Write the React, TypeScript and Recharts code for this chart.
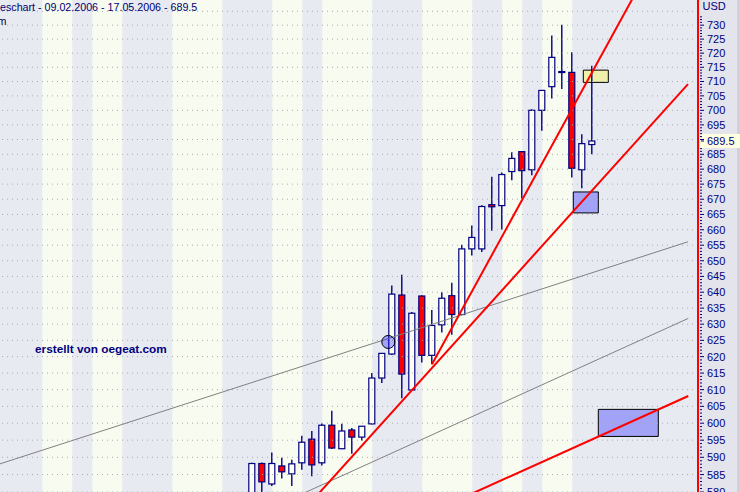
import React from 'react';
import {
  ComposedChart,
  Bar,
  XAxis,
  YAxis,
  ReferenceArea,
  ReferenceLine,
  ReferenceDot,
} from 'recharts';

// ---- candle data (trading-day index, OHLC in USD) ----
const dayIndex = [25, 26, 27, 28, 29, 30, 31, 32, 33, 34, 35, 36, 37, 38, 39, 40, 41, 42, 43, 44, 45, 46, 47, 48, 49, 50, 51, 52, 53, 54, 55, 56, 57, 58, 59];
const opens = [576, 588.2, 582.3, 587.5, 585.2, 588.4, 595.3, 588.4, 599.4, 592.5, 598.0, 595.9, 599.8, 613.5, 620.8, 639.1, 609.9, 638.8, 620.4, 629.8, 638.9, 633.0, 653.8, 653.8, 668.2, 667.9, 679.2, 685.9, 679.8, 700.0, 708.2, 713.5, 713.2, 679.8, 688.3];
const highs = [588.4, 588.5, 591.4, 589.9, 589.3, 596.3, 597.7, 599.9, 603.7, 599.8, 598.6, 599.2, 615.0, 621.0, 642.1, 645.5, 633.8, 639.0, 634.4, 640.0, 643.0, 655.1, 661.4, 668.0, 677.5, 678.9, 685.7, 686.0, 700.4, 707.0, 726.3, 730.1, 720.3, 691.8, 715.5];
const lows = [574, 578, 581.7, 583.9, 581.7, 586.4, 584.5, 587.6, 592.4, 592.4, 591.0, 594.9, 599.6, 612.0, 620.5, 607.4, 609.8, 618.2, 617.7, 627.4, 626.7, 632.8, 651.7, 652.8, 659.7, 660.1, 676.3, 670.2, 678.0, 693.0, 704.1, 707.4, 677.2, 673.6, 685.0];
const closes = [588.2, 582.9, 588.2, 585.8, 588.1, 594.4, 587.8, 599.4, 592.7, 597.7, 595.9, 599.1, 613.5, 621.0, 639.4, 614.7, 633.4, 620.4, 629.6, 638.1, 633.0, 653.8, 657.5, 667.6, 667.5, 678.2, 683.6, 679.5, 700.0, 706.9, 718.5, 713.3, 680.3, 688.6, 689.5];

const lastPrice = 689.5;
const titleText = 'eschart - 09.02.2006 - 17.05.2006 - 689.5';
const watermark = 'erstellt von oegeat.com';
const currency = 'USD';

// background week stripes (day index ranges)
const creamStarts = [4, 9, 17, 27, 32, 42, 50, 54];
const creamEnds = [7, 12, 22, 30, 37, 47, 52, 57];

// axis
const xDomain: [number, number] = [-0.23, 69.57];
const yDomain: [number, number] = [580, 739.1];
const gridValues = Array.from({ length: 32 }, (_, i) => 580 + i * 5);
const minorTicks = Array.from({ length: 154 }, (_, i) => 580 + i);
const yTicks = [...minorTicks, lastPrice].sort((a, b) => a - b);

// trend lines: [x1, y1, x2, y2] in (day, price)
const redLines = [
  [30, 574.4, 68.57, 709.1],
  [42.97, 617.7, 63.5, 742.8],
  [46, 578.3, 68.6, 608.1],
];
const greyLines = [
  [-0.23, 588.1, 68.57, 656.1],
  [28, 576.9, 68.6, 631.8],
];
// boxes: [x1, x2, yLow, yHigh]
const blueBoxes = [
  [57.1, 59.6, 665.5, 672.4],
  [59.6, 65.6, 596.1, 604.1],
];
const yellowBoxes = [[58.1, 60.6, 709.7, 714.0]];
const circleMark = { d: 38.6, price: 624.5 };

const data = dayIndex.map((d, i) => ({
  d,
  open: opens[i],
  high: highs[i],
  low: lows[i],
  close: closes[i],
}));

const NAVY = '#000080';

const Candle = (props: any) => {
  const { x, y, width, height, payload } = props;
  if (x == null || y == null || !payload) return null;
  const cx = x + width / 2;
  const top = Math.min(y, y + height);
  const h = Math.abs(height);
  const lh = Math.log(payload.high);
  const ll = Math.log(payload.low);
  const py = (v: number) => top + ((lh - Math.log(v)) / (lh - ll)) * h;
  const up = payload.close >= payload.open;
  const bt = py(Math.max(payload.open, payload.close));
  const bb = py(Math.min(payload.open, payload.close));
  const bh = Math.max(bb - bt, 1);
  return (
    <g>
      <line x1={cx} x2={cx} y1={top} y2={top + h} stroke={NAVY} strokeWidth={1.4} />
      <rect
        x={cx - 3}
        y={bt}
        width={6}
        height={bh}
        fill={bh <= 1.5 ? NAVY : up ? '#fffff2' : '#ff0000'}
        stroke={NAVY}
        strokeWidth={1.2}
      />
    </g>
  );
};

const AxisTick = (props: any) => {
  const { x, y, payload } = props;
  const v = Number(payload.value);
  if (v === lastPrice) {
    return (
      <g>
        <rect x={x + 2} y={y - 7} width={42} height={14} fill="#ffffe1" />
        <line x1={x + 3} x2={x + 6} y1={y} y2={y} stroke={NAVY} strokeWidth={1} />
        <text x={x + 9} y={y} dy="0.36em" fontSize={11} fontFamily="Liberation Sans, Arial, sans-serif" fill={NAVY}>
          {String(v)}
        </text>
      </g>
    );
  }
  const major = v % 5 === 0;
  if (Math.abs(v - lastPrice) < 1.5 && !major) return <g />;
  return (
    <g>
      <line x1={x + 2} x2={x + (major ? 6 : 4)} y1={y} y2={y} stroke={NAVY} strokeWidth={1} />
      {major && v <= 730 && Math.abs(v - lastPrice) > 2 ? (
        <text x={x + 9} y={y} dy="0.36em" fontSize={11} fontFamily="Liberation Sans, Arial, sans-serif" fill={NAVY}>
          {String(v)}
        </text>
      ) : null}
    </g>
  );
};

export default function App() {
  return (
    <div
      style={{
        position: 'absolute',
        left: 0,
        top: 0,
        width: 740,
        height: 492,
        background: '#e4e4ec',
        overflow: 'hidden',
      }}
    >
      <div style={{ position: 'absolute', left: 737, top: 0, width: 3, height: 492, background: '#d2d0d8' }} />
      <ComposedChart width={740} height={492} data={data} margin={{ top: 0, right: 0, left: 0, bottom: 0 }}>
        <XAxis type="number" dataKey="d" domain={xDomain} hide allowDataOverflow />
        <YAxis
          orientation="right"
          scale="log"
          domain={yDomain}
          allowDataOverflow
          ticks={yTicks}
          interval={0}
          tick={AxisTick}
          tickLine={false}
          tickSize={0}
          tickMargin={0}
          width={42}
          axisLine={{ stroke: '#ff0000', strokeWidth: 2 }}
        />
        <ReferenceArea x1={xDomain[0]} x2={xDomain[1]} fill="#e8eaf2" fillOpacity={1} ifOverflow="hidden" />
        {creamStarts.map((s, i) => (
          <ReferenceArea key={'c' + i} x1={s} x2={creamEnds[i]} fill="#f8fbf0" fillOpacity={1} ifOverflow="hidden" />
        ))}
        {gridValues.map((g) => (
          <ReferenceLine key={'g' + g} y={g} stroke="#a9abb3" strokeDasharray="1 4" ifOverflow="hidden" />
        ))}
        <Bar dataKey={(r: any) => [r.low, r.high]} shape={Candle} barSize={7} isAnimationActive={false} />
        {greyLines.map((l, i) => (
          <ReferenceLine
            key={'gl' + i}
            segment={[{ x: l[0], y: l[1] }, { x: l[2], y: l[3] }]}
            stroke="#808080"
            strokeWidth={1}
            ifOverflow="hidden"
          />
        ))}
        {redLines.map((l, i) => (
          <ReferenceLine
            key={'rl' + i}
            segment={[{ x: l[0], y: l[1] }, { x: l[2], y: l[3] }]}
            stroke="#ff0000"
            strokeWidth={2}
            ifOverflow="hidden"
          />
        ))}
        {blueBoxes.map((b, i) => (
          <ReferenceArea
            key={'bb' + i}
            x1={b[0]}
            x2={b[1]}
            y1={b[2]}
            y2={b[3]}
            fill="#0000ff"
            fillOpacity={0.3}
            stroke="#000000"
            strokeWidth={1}
            ifOverflow="hidden"
          />
        ))}
        {yellowBoxes.map((b, i) => (
          <ReferenceArea
            key={'yb' + i}
            x1={b[0]}
            x2={b[1]}
            y1={b[2]}
            y2={b[3]}
            fill="#ffff00"
            fillOpacity={0.3}
            stroke="#000000"
            strokeWidth={1}
            ifOverflow="hidden"
          />
        ))}
        <ReferenceDot
          x={circleMark.d}
          y={circleMark.price}
          r={6.5}
          fill="#0000ff"
          fillOpacity={0.3}
          stroke="#000000"
          strokeWidth={1}
          ifOverflow="hidden"
        />
      </ComposedChart>
      <svg
        width={740}
        height={492}
        style={{ position: 'absolute', left: 0, top: 0, pointerEvents: 'none' }}
      >
        <text x={0} y={10.7} fontSize={10.7} fontFamily="Liberation Sans, Arial, sans-serif" fill="#000070">
          {titleText}
        </text>
        <text x={-104} y={25} fontSize={10.7} fontFamily="Liberation Sans, Arial, sans-serif" fill="#000040">
          {watermark}
        </text>
        <text x={35} y={353} fontSize={11.8} fontWeight="bold" fontFamily="Liberation Sans, Arial, sans-serif" fill={NAVY}>
          {watermark}
        </text>
        <text x={702.5} y={10} fontSize={11} fontFamily="Liberation Sans, Arial, sans-serif" fill={NAVY}>
          {currency}
        </text>
      </svg>
    </div>
  );
}
